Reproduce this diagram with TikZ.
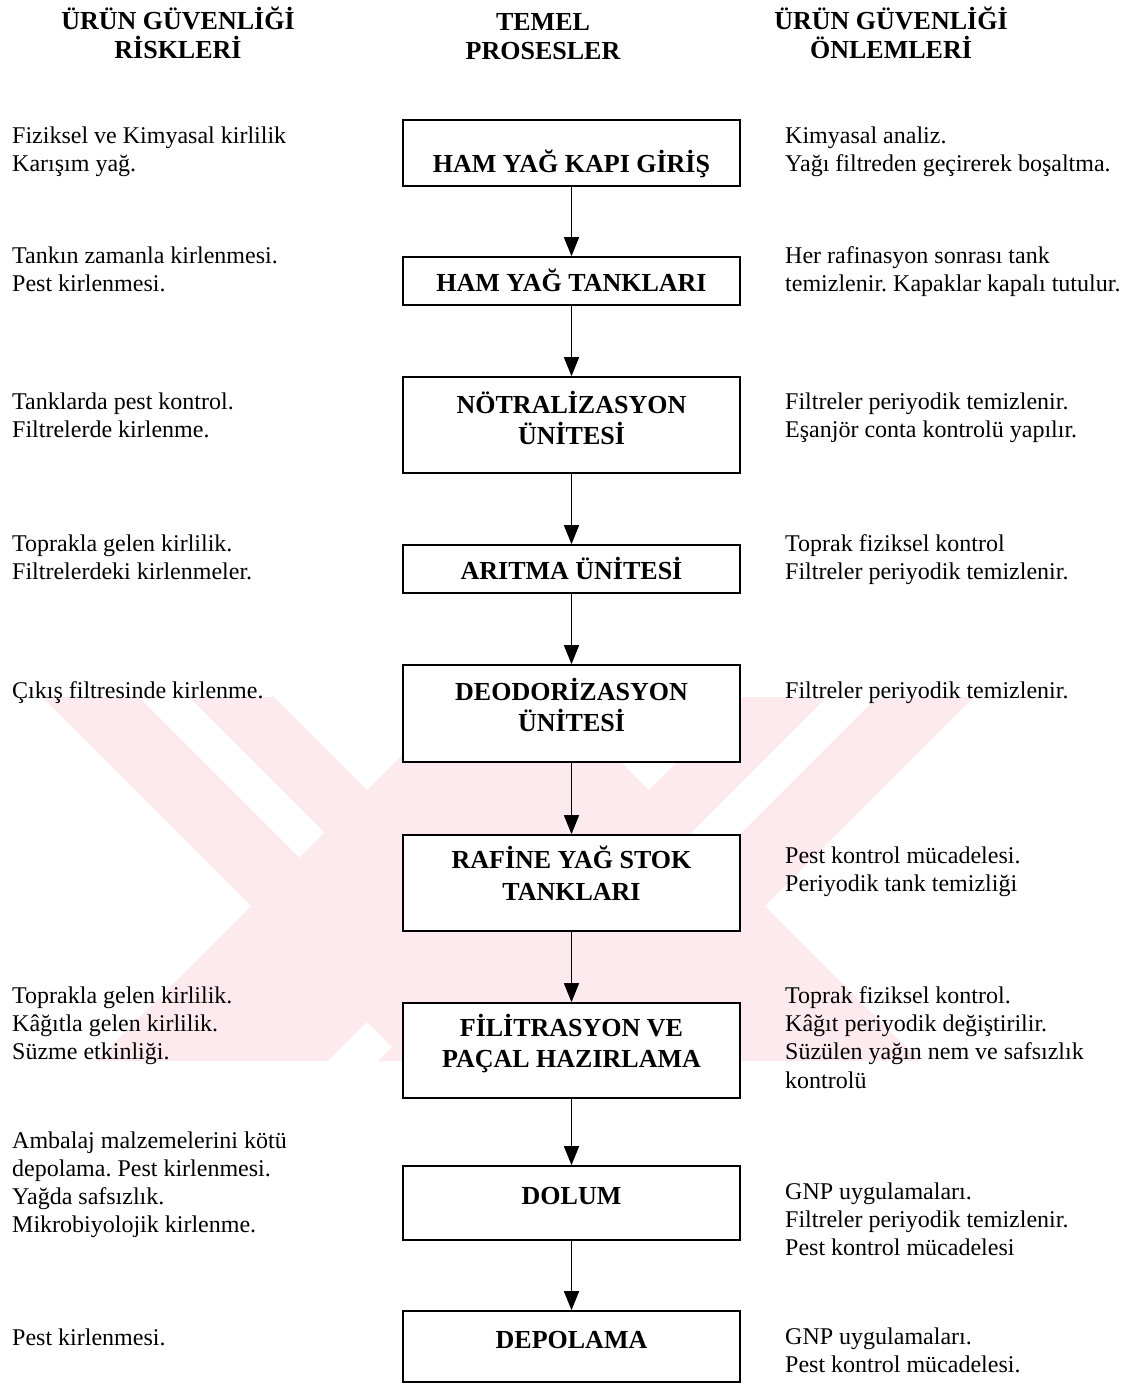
\documentclass[tikz,border=0pt]{standalone}
\usepackage{fontspec}
\setmainfont{Liberation Serif}
\usetikzlibrary{arrows.meta}
\definecolor{wmark}{RGB}{253,234,239}
\tikzset{
  pbox/.style={draw, line width=1.7pt, fill=white, rectangle, inner sep=0pt,
               minimum width=337pt},
  ptext/.style={anchor=north, inner sep=0pt, align=center,
                font=\fontsize{26}{31.5}\selectfont\bfseries,
                execute at begin node={\rule{0pt}{27pt}}},
  head/.style={anchor=north, inner sep=0pt, align=center,
               font=\fontsize{26}{29}\selectfont\bfseries,
               execute at begin node={\rule{0pt}{27pt}}},
  body/.style={anchor=north west, inner sep=0pt, align=left,
               font=\fontsize{24}{28.3}\selectfont,
               execute at begin node=\strut},
  flow/.style={line width=1.7pt, -{Triangle[width=15pt,length=19pt]}}
}
\begin{document}
\frenchspacing
\begin{tikzpicture}[x=1pt,y=-1pt]
\useasboundingbox[fill=white] (0,0) rectangle (1133,1384);

% background emblem
\begin{scope}
  \clip (0,697) rectangle (1133,1060);
  \fill[wmark] (42,697) -- (274,697) -- (674,1097) -- (442,1097) -- cycle;
  \fill[wmark] (974,697) -- (742,697) -- (342,1097) -- (574,1097) -- cycle;
  \fill[white] (139,697) -- (189,697) -- (324.5,832.5) -- (299.5,857.5) -- cycle;
  \fill[white] (877,697) -- (827,697) -- (691.5,832.5) -- (716.5,857.5) -- cycle;
  \fill[wmark] (508,649) -- (959,1100) -- (727,1100) -- (508,881)
               -- (289,1100) -- (57,1100) -- cycle;
\end{scope}

% column headings
\node[head] (hL) at (178,7) {ÜRÜN GÜVENLİĞİ\\RİSKLERİ};
\node[head] (hM) at (543,13.5) {TEMEL\\PROSESLER};
\node[head] (hR) at (891,7) {ÜRÜN GÜVENLİĞİ\\ÖNLEMLERİ};

% process boxes
\node[pbox, minimum height=66pt] (b1) at (571.5,153) {};
\node[pbox, minimum height=48pt] (b2) at (571.5,281) {};
\node[pbox, minimum height=96pt] (b3) at (571.5,425) {};
\node[pbox, minimum height=48pt] (b4) at (571.5,569) {};
\node[pbox, minimum height=97pt] (b5) at (571.5,713.5) {};
\node[pbox, minimum height=96pt] (b6) at (571.5,883) {};
\node[pbox, minimum height=95pt] (b7) at (571.5,1050.5) {};
\node[pbox, minimum height=74pt] (b8) at (571.5,1203) {};
\node[pbox, minimum height=71pt] (b9) at (571.5,1346.5) {};

\node[ptext] (t1) at (571.5,145.5) {HAM YAĞ KAPI GİRİŞ};
\node[ptext] (t2) at (571.5,264.5) {HAM YAĞ TANKLARI};
\node[ptext] (t3) at (571.5,391) {NÖTRALİZASYON\\ÜNİTESİ};
\node[ptext] (t4) at (571.5,552.5) {ARITMA ÜNİTESİ};
\node[ptext] (t5) at (571.5,678) {DEODORİZASYON\\ÜNİTESİ};
\node[ptext] (t6) at (571.5,846) {RAFİNE YAĞ STOK\\TANKLARI};
\node[ptext] (t7) at (571.5,1014) {FİLİTRASYON VE\\PAÇAL HAZIRLAMA};
\node[ptext] (t8) at (571.5,1177.5) {DOLUM};
\node[ptext] (t9) at (571.5,1321.5) {DEPOLAMA};

% flow arrows
\draw[flow] (b1) -- (b2);
\draw[flow] (b2) -- (b3);
\draw[flow] (b3) -- (b4);
\draw[flow] (b4) -- (b5);
\draw[flow] (b5) -- (b6);
\draw[flow] (b6) -- (b7);
\draw[flow] (b7) -- (b8);
\draw[flow] (b8) -- (b9);

% risks
\node[body] (r1) at (12,126.2) {Fiziksel ve Kimyasal kirlilik\\Karışım yağ.};
\node[body] (r2) at (12,246.2) {Tankın zamanla kirlenmesi.\\Pest kirlenmesi.};
\node[body] (r3) at (12,392.2) {Tanklarda pest kontrol.\\Filtrelerde kirlenme.};
\node[body] (r4) at (12,534.2) {Toprakla gelen kirlilik.\\Filtrelerdeki kirlenmeler.};
\node[body] (r5) at (12,678.2) {Çıkış filtresinde kirlenme.};
\node[body] (r6) at (12,986.2) {Toprakla gelen kirlilik.\\Kâğıtla gelen kirlilik.\\Süzme etkinliği.};
\node[body] (r7) at (12,1131.2) {Ambalaj malzemelerini kötü\\depolama. Pest kirlenmesi.\\Yağda safsızlık.\\Mikrobiyolojik kirlenme.};
\node[body] (r8) at (12,1325.2) {Pest kirlenmesi.};

% measures
\node[body] (m1) at (785,126.2) {Kimyasal analiz.\\Yağı filtreden geçirerek boşaltma.};
\node[body] (m2) at (785,246.2) {Her rafinasyon sonrası tank\\temizlenir. Kapaklar kapalı tutulur.};
\node[body] (m3) at (785,392.2) {Filtreler periyodik temizlenir.\\Eşanjör conta kontrolü yapılır.};
\node[body] (m4) at (785,534.2) {Toprak fiziksel kontrol\\Filtreler periyodik temizlenir.};
\node[body] (m5) at (785,678.2) {Filtreler periyodik temizlenir.};
\node[body] (m6) at (785,846.2) {Pest kontrol mücadelesi.\\Periyodik tank temizliği};
\node[body] (m7) at (785,986.2) {Toprak fiziksel kontrol.\\Kâğıt periyodik değiştirilir.\\Süzülen yağın nem ve safsızlık\\kontrolü};
\node[body] (m8) at (785,1182.2) {GNP uygulamaları.\\Filtreler periyodik temizlenir.\\Pest kontrol mücadelesi};
\node[body] (m9) at (785,1327.2) {GNP uygulamaları.\\Pest kontrol mücadelesi.};
\end{tikzpicture}
\end{document}
